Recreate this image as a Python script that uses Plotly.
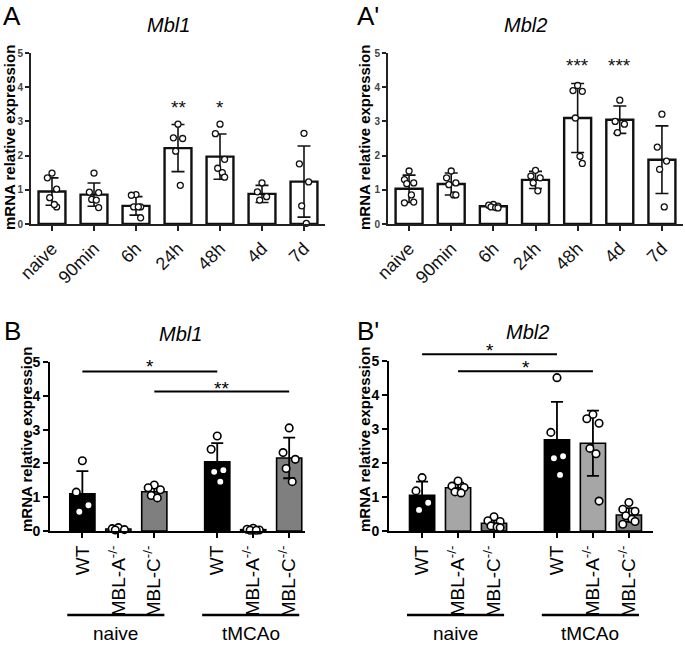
import plotly.graph_objects as go

W, H = 685, 646

# ---------------- data: panels A / A' (time course) ----------------
time_labels = ["naive", "90min", "6h", "24h", "48h", "4d", "7d"]

mbl1_time_mean = [0.95, 0.86, 0.53, 2.22, 1.97, 0.88, 1.24]
mbl1_time_sd = [0.40, 0.34, 0.27, 0.69, 0.66, 0.25, 1.04]
mbl1_time_pts = [
    [1.49, 1.35, 1.02, 0.77, 0.50, 0.57],
    [1.49, 0.93, 0.92, 0.72, 0.70, 0.48],
    [0.86, 0.84, 0.50, 0.50, 0.50, 0.18],
    [2.92, 2.50, 2.52, 2.13, 1.13],
    [2.92, 2.64, 1.89, 1.63, 1.50, 1.37],
    [1.20, 0.94, 0.80, 0.70],
    [2.65, 1.76, 1.23, 0.53, 0.02],
]
mbl1_time_sig = ["", "", "", "**", "*", "", ""]
mbl1_time_sig_y = 3.56

mbl2_time_mean = [1.03, 1.17, 0.52, 1.29, 3.10, 3.05, 1.88]
mbl2_time_sd = [0.40, 0.32, 0.05, 0.25, 1.01, 0.40, 0.99]
mbl2_time_pts = [
    [1.55, 1.30, 1.20, 1.18, 0.85, 0.64, 0.62],
    [1.55, 1.35, 1.20, 1.15, 0.85, 0.85],
    [0.57, 0.55, 0.52, 0.50, 0.48, 0.47],
    [1.57, 1.40, 1.35, 1.20, 0.97],
    [4.05, 3.90, 3.88, 3.10, 1.98, 1.77],
    [3.62, 3.00, 2.92, 2.67],
    [3.21, 2.25, 1.84, 1.60, 0.50],
]
mbl2_time_sig = ["", "", "", "", "***", "***", ""]
mbl2_time_sig_y = 4.78

# ---------------- data: panels B / B' (knockouts) ----------------
geno_labels = ["WT", "MBL-A<sup>-/-</sup>", "MBL-C<sup>-/-</sup>"]
group_labels = ["naive", "tMCAo"]
geno_colors = ["#000000", "#a6a6a6", "#7f7f7f"]

mbl1_ko_mean = [1.10, 0.06, 1.16, 2.05, 0.04, 2.16]
mbl1_ko_sd = [0.67, 0.03, 0.13, 0.55, 0.03, 0.60]
mbl1_ko_pts = [
    [2.08, 1.15, 0.76, 0.57],
    [0.10, 0.07, 0.04, 0.03],
    [1.36, 1.28, 1.22, 1.05, 0.98],
    [2.81, 2.42, 1.80, 1.75, 1.46],
    [0.08, 0.05, 0.03, 0.02, 0.02],
    [3.05, 2.32, 2.12, 1.85, 1.46],
]
# (from bar, to bar, line height, label, label height)
mbl1_ko_brackets = [(0, 3, 4.72, "*", 5.02), (2, 5, 4.13, "**", 4.36)]

mbl2_ko_mean = [1.05, 1.27, 0.23, 2.68, 2.58, 0.47]
mbl2_ko_sd = [0.40, 0.15, 0.12, 1.12, 0.96, 0.20]
mbl2_ko_pts = [
    [1.57, 1.18, 0.83, 0.62],
    [1.47, 1.32, 1.28, 1.15, 1.12],
    [0.42, 0.30, 0.28, 0.15, 0.12, 0.10],
    [4.51, 2.90, 2.20, 2.14, 1.65],
    [3.43, 3.30, 3.17, 2.43, 2.27, 0.88],
    [0.84, 0.64, 0.58, 0.45, 0.35, 0.28, 0.20],
]
mbl2_ko_brackets = [(0, 3, 5.20, "*", 5.47), (1, 4, 4.70, "*", 4.95)]

# ---------------- layout helpers ----------------
FONT = "Liberation Sans, Arial, sans-serif"


def px_x(p):
    return p / W


def px_y(p):
    return 1 - p / H


def jitter(vals, spread):
    order = sorted(range(len(vals)), key=lambda i: -vals[i])
    pattern = [0, -1, 1, -0.5, 0.5, 1, -1, 0]
    off = [0.0] * len(vals)
    for rank, i in enumerate(order):
        off[i] = pattern[rank % len(pattern)] * spread
    return off


def to_paper(v, dom, rng):
    return dom[0] + (v - rng[0]) / (rng[1] - rng[0]) * (dom[1] - dom[0])


# group positions for the knockout panels: 3 bars, gap, 3 bars
GAP = 0.75
ko_pos = [i + (GAP if i >= 3 else 0) for i in range(6)]

dom = {
    "A": ([px_x(31), px_x(325)], [px_y(224), px_y(53)]),
    "A2": ([px_x(388), px_x(683)], [px_y(224), px_y(53)]),
    "B": ([px_x(50), px_x(305)], [px_y(531), px_y(362)]),
    "B2": ([px_x(389), px_x(653)], [px_y(531), px_y(361)]),
}
rng_x = {"A": [-0.5, 6.5], "A2": [-0.5, 6.5], "B": [-0.9, 6.19], "B2": [-0.92, 6.42]}
rng_y = [0, 5]

fig = go.Figure()
annotations = []
shapes = []


def add_time_panel(means, sds, pts, sig, sig_y, xa, ya):
    xs = list(range(len(means)))
    fig.add_trace(go.Bar(
        x=xs, y=means, width=0.64, xaxis=xa, yaxis=ya,
        marker=dict(color="white", line=dict(color="#111", width=2.4)),
        error_y=dict(type="data", array=sds, visible=True, color="#111",
                     thickness=1.6, width=6.5),
        showlegend=False, hoverinfo="skip",
    ))
    px, py = [], []
    for i, vals in enumerate(pts):
        off = jitter(vals, 0.11)
        px += [i + o for o in off]
        py += vals
    fig.add_trace(go.Scatter(
        x=px, y=py, mode="markers", xaxis=xa, yaxis=ya, cliponaxis=False,
        marker=dict(symbol="circle", size=6, color="white",
                    line=dict(color="#111", width=1.3)),
        showlegend=False, hoverinfo="skip",
    ))
    for i, s in enumerate(sig):
        if s:
            annotations.append(dict(
                x=i, y=sig_y, xref=xa, yref=ya, text=s, showarrow=False,
                xanchor="center", yanchor="middle", yshift=-5,
                font=dict(family=FONT, size=19, color="#111")))


def add_ko_panel(means, sds, pts, brackets, xa, ya, key):
    colors = geno_colors * 2
    fig.add_trace(go.Bar(
        x=ko_pos, y=means, width=0.7, xaxis=xa, yaxis=ya,
        marker=dict(color=colors, line=dict(color="#000", width=1.6)),
        error_y=dict(type="data", array=sds, visible=True, color="#000",
                     thickness=1.8, width=6),
        showlegend=False, hoverinfo="skip",
    ))
    px, py = [], []
    for i, vals in enumerate(pts):
        off = jitter(vals, 0.17)
        px += [ko_pos[i] + o for o in off]
        py += vals
    fig.add_trace(go.Scatter(
        x=px, y=py, mode="markers", xaxis=xa, yaxis=ya, cliponaxis=False,
        marker=dict(symbol="circle", size=7.5, color="white",
                    line=dict(color="#000", width=1.6)),
        showlegend=False, hoverinfo="skip",
    ))
    ydom = dom[key][1]
    for a, b, h, lab, lh in brackets:
        yp = to_paper(h, ydom, rng_y)
        shapes.append(dict(type="line", xref=xa, yref="paper",
                           x0=ko_pos[a], x1=ko_pos[b], y0=yp, y1=yp,
                           line=dict(color="#000", width=2)))
        annotations.append(dict(
            x=(ko_pos[a] + ko_pos[b]) / 2, y=to_paper(lh, ydom, rng_y),
            xref=xa, yref="paper", text=lab,
            showarrow=False, xanchor="center", yanchor="middle", yshift=-5,
            font=dict(family=FONT, size=19, color="#000")))
    # group underlines and labels
    for g, name in enumerate(group_labels):
        first, last = ko_pos[3 * g], ko_pos[3 * g + 2]
        shapes.append(dict(type="line", xref=xa, yref="paper",
                           x0=first - 0.42, x1=last + 0.28,
                           y0=px_y(615), y1=px_y(615),
                           line=dict(color="#000", width=2.5)))
        annotations.append(dict(
            x=(first + last) / 2 - 0.07, y=px_y(633), xref=xa, yref="paper",
            text=name, showarrow=False, xanchor="center", yanchor="middle",
            font=dict(family=FONT, size=19, color="#000")))


add_time_panel(mbl1_time_mean, mbl1_time_sd, mbl1_time_pts,
               mbl1_time_sig, mbl1_time_sig_y, "x", "y")
add_time_panel(mbl2_time_mean, mbl2_time_sd, mbl2_time_pts,
               mbl2_time_sig, mbl2_time_sig_y, "x2", "y2")
add_ko_panel(mbl1_ko_mean, mbl1_ko_sd, mbl1_ko_pts, mbl1_ko_brackets,
             "x3", "y3", "B")
add_ko_panel(mbl2_ko_mean, mbl2_ko_sd, mbl2_ko_pts, mbl2_ko_brackets,
             "x4", "y4", "B2")


def time_xaxis(key, anchor):
    return dict(domain=dom[key][0], range=rng_x[key], anchor=anchor,
                automargin=False,
                tickmode="array", tickvals=list(range(len(time_labels))),
                ticktext=time_labels, tickangle=-45, ticks="outside",
                ticklen=5, tickwidth=1.5, tickcolor="#222",
                showline=True, linewidth=2, linecolor="#222",
                showgrid=False, zeroline=False,
                tickfont=dict(family=FONT, size=18, color="#111"))


def time_yaxis(key, anchor):
    return dict(domain=dom[key][1], range=rng_y, anchor=anchor,
                automargin=False,
                tickmode="array", tickvals=[0, 1, 2, 3, 4, 5], ticks="outside",
                ticklen=4, tickwidth=1.5, tickcolor="#222",
                showline=True, linewidth=2, linecolor="#222",
                showgrid=False, zeroline=False,
                tickfont=dict(family=FONT, size=10, color="#444", weight="bold"))


def ko_xaxis(key, anchor):
    return dict(domain=dom[key][0], range=rng_x[key], anchor=anchor,
                automargin=False,
                tickmode="array", tickvals=ko_pos, ticktext=geno_labels * 2,
                tickangle=-90, ticks="outside", ticklen=5, tickwidth=1.5,
                tickcolor="#000", showline=True, linewidth=2, linecolor="#000",
                showgrid=False, zeroline=False,
                tickfont=dict(family=FONT, size=19, color="#000"))


def ko_yaxis(key, anchor):
    return dict(domain=dom[key][1], range=rng_y, anchor=anchor,
                automargin=False,
                tickmode="array", tickvals=[0, 1, 2, 3, 4, 5], ticks="outside",
                ticklen=5, tickwidth=2, tickcolor="#000",
                showline=True, linewidth=2, linecolor="#000",
                showgrid=False, zeroline=False,
                tickfont=dict(family=FONT, size=14, color="#000", weight="bold"))


# panel letters, titles, y-axis titles
for txt, x, y in [("A", 12, 16), ("A'", 368, 16), ("B", 12, 331), ("B'", 368, 331)]:
    annotations.append(dict(x=px_x(x), y=px_y(y), xref="paper", yref="paper",
                            text=txt, showarrow=False,
                            xanchor="center", yanchor="middle",
                            font=dict(family=FONT, size=26, color="#000")))
for txt, x, y in [("Mbl1", 168, 25), ("Mbl2", 525, 25), ("Mbl1", 180, 334), ("Mbl2", 527, 332)]:
    annotations.append(dict(x=px_x(x), y=px_y(y), xref="paper", yref="paper",
                            text="<i>" + txt + "</i>", showarrow=False,
                            xanchor="center", yanchor="middle",
                            font=dict(family=FONT, size=20, color="#000")))
for x, y in [(9, 138), (364, 138), (26, 440), (364, 440)]:
    annotations.append(dict(x=px_x(x), y=px_y(y), xref="paper", yref="paper",
                            text="mRNA relative expression", textangle=-90,
                            showarrow=False, xanchor="center", yanchor="middle",
                            font=dict(family=FONT, size=15, color="#000",
                                      weight="bold")))

fig.update_layout(
    width=W, height=H,
    margin=dict(l=0, r=0, t=0, b=0, pad=0, autoexpand=False),
    paper_bgcolor="white", plot_bgcolor="white",
    barmode="overlay", showlegend=False,
    xaxis=time_xaxis("A", "y"), yaxis=time_yaxis("A", "x"),
    xaxis2=time_xaxis("A2", "y2"), yaxis2=time_yaxis("A2", "x2"),
    xaxis3=ko_xaxis("B", "y3"), yaxis3=ko_yaxis("B", "x3"),
    xaxis4=ko_xaxis("B2", "y4"), yaxis4=ko_yaxis("B2", "x4"),
    annotations=annotations, shapes=shapes,
)

fig.write_html(
    "out.html",
    config={"displayModeBar": False},
    post_script="document.body.style.margin='0';document.body.style.overflow='hidden';",
)
